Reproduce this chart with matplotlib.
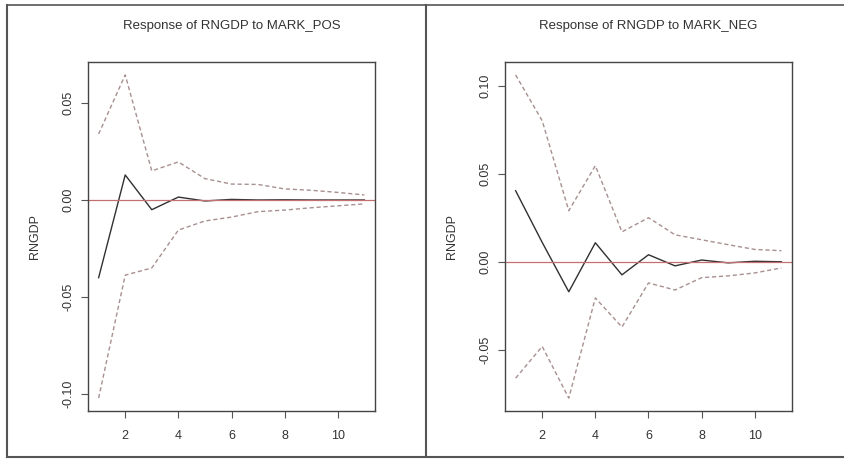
import numpy as np
import matplotlib.pyplot as plt
from matplotlib.lines import Line2D

plt.rcParams['font.family'] = ['Liberation Sans', 'DejaVu Sans']

# horizon
steps = list(range(1, 12))

# Response of RNGDP to MARK_POS
pos_irf = [-0.040, 0.0129, -0.005, 0.0015, -0.0005, 0.0003, 0.0, 0.0001, 0.0, 0.0, 0.0]
pos_upper = [0.034, 0.0644, 0.015, 0.0196, 0.0110, 0.0082, 0.0080, 0.0057, 0.0050, 0.0039, 0.0026]
pos_lower = [-0.102, -0.0387, -0.035, -0.0155, -0.0108, -0.0088, -0.0060, -0.0052, -0.0040, -0.0030, -0.0020]

# Response of RNGDP to MARK_NEG
neg_irf = [0.0403, 0.011, -0.017, 0.0108, -0.0074, 0.004, -0.0023, 0.001, -0.0006, 0.0003, 0.0]
neg_upper = [0.106, 0.080, 0.029, 0.0545, 0.017, 0.025, 0.0153, 0.0125, 0.0097, 0.0070, 0.0063]
neg_lower = [-0.066, -0.048, -0.0773, -0.0205, -0.037, -0.012, -0.016, -0.009, -0.008, -0.0063, -0.0035]

titles = ["Response of RNGDP to MARK_POS", "Response of RNGDP to MARK_NEG"]
yticks = [[-0.10, -0.05, 0.00, 0.05], [-0.05, 0.00, 0.05, 0.10]]
panels = [(pos_irf, pos_upper, pos_lower), (neg_irf, neg_upper, neg_lower)]

W, H = 844, 459
fig = plt.figure(figsize=(W / 100, H / 100), dpi=100)

# axes boxes in pixels: left, right, top, bottom
boxes = [(88, 375, 62, 411), (505, 792, 62, 411)]

ci_col = '#a89090'
zero_col = '#c47070'

for i, (irf, up, lo) in enumerate(panels):
    l, r, t, b = boxes[i]
    ax = fig.add_axes([l / W, 1 - b / H, (r - l) / W, (b - t) / H])
    ax.plot(steps, irf, color='#303030', lw=1.0)
    ax.plot(steps, up, color=ci_col, lw=1.0, ls=(0, (3, 2)))
    ax.plot(steps, lo, color=ci_col, lw=1.0, ls=(0, (3, 2)))
    ax.axhline(0, color=zero_col, lw=0.9)

    allv = up + lo + irf
    lo_v, hi_v = min(allv), max(allv)
    pad = (hi_v - lo_v) * 0.04
    ax.set_ylim(lo_v - pad, hi_v + pad)
    ax.set_xlim(0.6, 11.4)

    ax.set_xticks([2, 4, 6, 8, 10])
    ax.set_yticks(yticks[i])
    ax.set_yticklabels([f"{v:.2f}" for v in yticks[i]], rotation=90, va='center')
    ax.tick_params(direction='out', length=5, width=0.8, color='#555555',
                   labelsize=9, labelcolor='#333333', pad=5)
    ax.tick_params(axis='x', pad=9)
    for s in ax.spines.values():
        s.set_color('#444444')
        s.set_linewidth(1.0)
    ax.set_title(titles[i], fontsize=9.5, color='#333333', pad=24)
    ax.set_ylabel("RNGDP", fontsize=9, color='#333333', labelpad=15)

# outer panel borders
border = '#555555'
fig.add_artist(Line2D([7 / W, 7 / W], [1 - 5 / H, 1 - 457 / H], color=border, lw=1.5))
fig.add_artist(Line2D([426 / W, 426 / W], [1 - 5 / H, 1 - 457 / H], color=border, lw=1.5))
fig.add_artist(Line2D([7 / W, 1], [1 - 5 / H, 1 - 5 / H], color=border, lw=1.2))
fig.add_artist(Line2D([7 / W, 1], [1 - 457 / H, 1 - 457 / H], color=border, lw=1.5))

fig.savefig("out.png", dpi=100)
